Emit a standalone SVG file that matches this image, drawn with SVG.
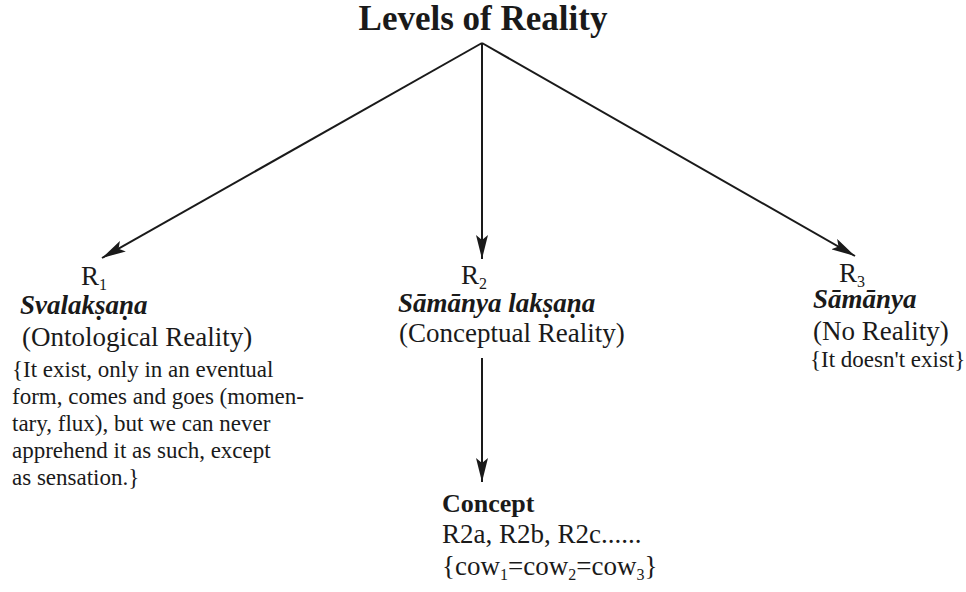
<svg xmlns="http://www.w3.org/2000/svg" width="966" height="592" viewBox="0 0 966 592">
<style>
text{font-family:"Liberation Serif","Times New Roman",serif;fill:#1a1a1a}
.t{font-size:35px;font-weight:bold}
.r{font-size:27px}
.u{font-size:16px}
.b{font-size:27px;font-weight:bold;font-style:italic}
.p{font-size:27px}
.s{font-size:23px}
.c{font-size:26px;font-weight:bold}
.e{stroke:#1a1a1a;stroke-width:2;fill:none}
</style>
<defs>
<marker id="ah" viewBox="0 0 24 12" refX="24" refY="6" markerWidth="24" markerHeight="12" markerUnits="userSpaceOnUse" orient="auto">
<path d="M0,0 L24,6 L0,12 L5,6 Z" fill="#1a1a1a"/>
</marker>
</defs>
<rect width="966" height="592" fill="#fff"/>
<g id="title"><text class="t" x="483" y="30" text-anchor="middle">Levels of Reality</text></g>
<g id="connectors">
<line class="e" x1="482" y1="43" x2="102" y2="258" marker-end="url(#ah)"/>
<line class="e" x1="482" y1="43" x2="482" y2="259" marker-end="url(#ah)"/>
<line class="e" x1="482" y1="43" x2="855" y2="256" marker-end="url(#ah)"/>
<line class="e" x1="482" y1="358" x2="482" y2="482" marker-end="url(#ah)"/>
</g>
<g id="r1">
<text class="r" x="81" y="285">R<tspan class="u" dy="5">1</tspan></text>
<text class="b" x="20" y="314">Svalakṣaṇa</text>
<text class="p" x="22" y="346">(Ontological Reality)</text>
<text class="s" x="12" y="377">{It exist, only in an eventual</text>
<text class="s" x="12" y="404">form, comes and goes (momen-</text>
<text class="s" x="12" y="431">tary, flux), but we can never</text>
<text class="s" x="12" y="458">apprehend it as such, except</text>
<text class="s" x="12" y="485">as sensation.}</text>
</g>
<g id="r2">
<text class="r" x="461" y="284">R<tspan class="u" dy="5">2</tspan></text>
<text class="b" x="398" y="312">Sāmānya lakṣaṇa</text>
<text class="p" x="399" y="342">(Conceptual Reality)</text>
</g>
<g id="concept">
<text class="c" x="442" y="512">Concept</text>
<text class="p" x="442" y="543">R2a, R2b, R2c......</text>
<text class="p" x="442" y="575">{cow<tspan class="u" dy="5">1</tspan><tspan dy="-5">=cow</tspan><tspan class="u" dy="5">2</tspan><tspan dy="-5">=cow</tspan><tspan class="u" dy="5">3</tspan><tspan dy="-5">}</tspan></text>
</g>
<g id="r3">
<text class="r" x="839" y="282">R<tspan class="u" dy="5">3</tspan></text>
<text class="b" x="813" y="308">Sāmānya</text>
<text class="p" x="813" y="340">(No Reality)</text>
<text class="s" x="810" y="367">{It doesn't exist}</text>
</g>
</svg>
